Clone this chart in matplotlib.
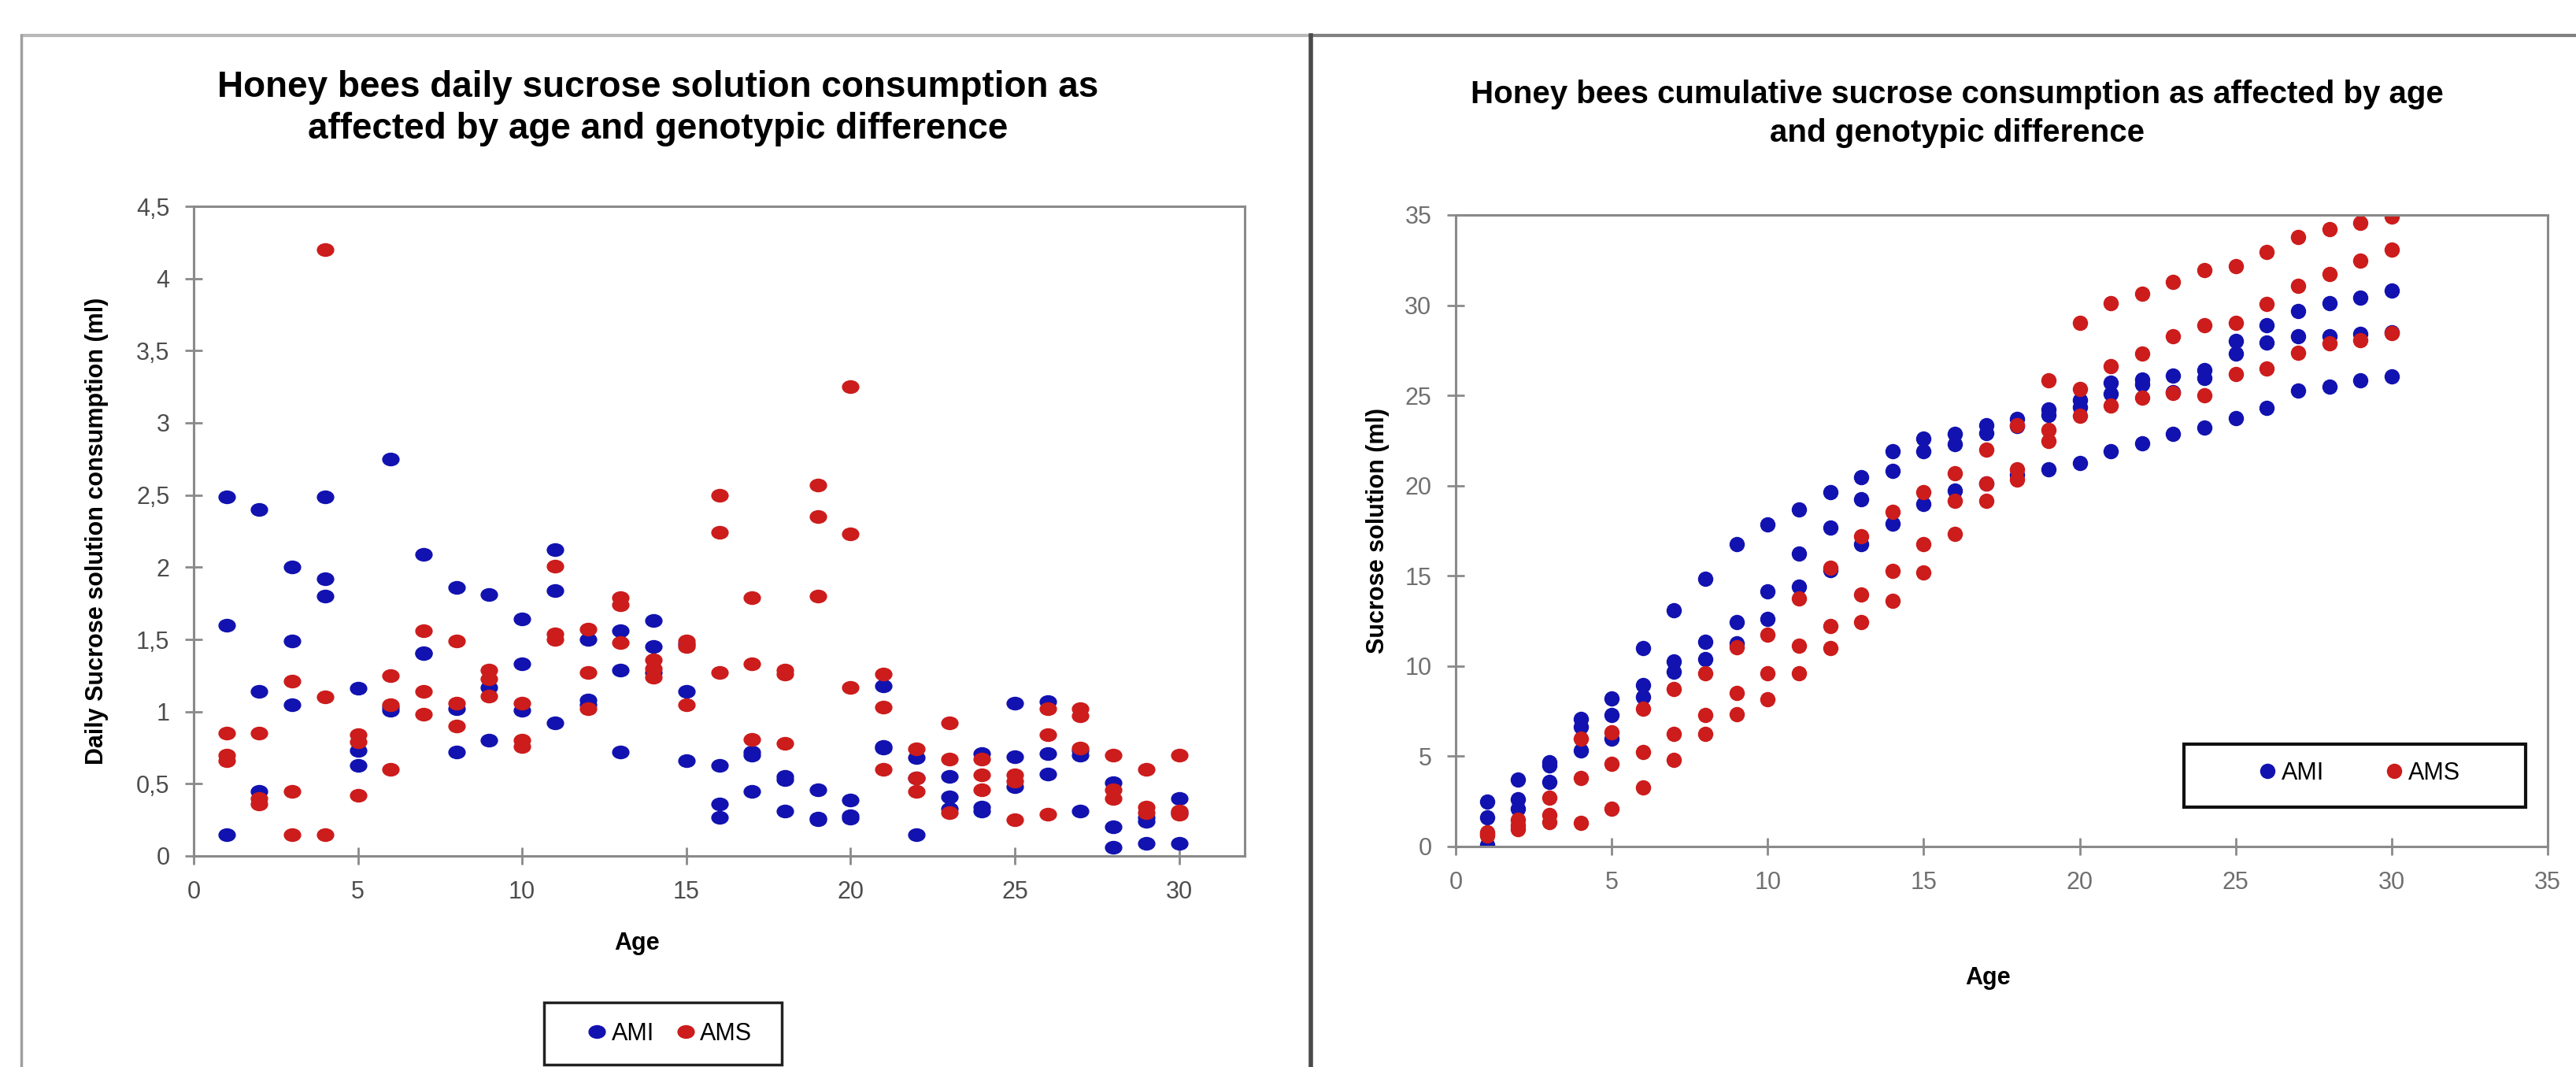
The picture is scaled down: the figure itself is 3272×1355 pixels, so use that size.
import numpy as np
import matplotlib
matplotlib.use("Agg")
import matplotlib.pyplot as plt
from matplotlib.path import Path
from matplotlib.transforms import Affine2D
from matplotlib.lines import Line2D
from matplotlib.patches import Rectangle
from matplotlib.ticker import MultipleLocator, FuncFormatter

plt.rcParams['font.family'] = ['Liberation Sans Narrow', 'Liberation Sans', 'DejaVu Sans']

ages = list(range(1, 31))

# daily consumption (ml), three replicates per age
ami_daily = [
    [2.49, 1.60, 0.15], [2.40, 1.14, 0.45], [2.00, 1.49, 1.05], [2.49, 1.92, 1.80],
    [1.16, 0.73, 0.63], [2.75, 1.03, 1.01], [2.09, 1.41, 1.40], [1.86, 1.02, 0.72],
    [1.81, 1.17, 0.80], [1.64, 1.33, 1.01], [2.12, 1.84, 0.92], [1.50, 1.08, 1.05],
    [1.56, 1.29, 0.72], [1.63, 1.45, 1.27], [1.47, 1.14, 0.66], [0.63, 0.36, 0.27],
    [0.72, 0.70, 0.45], [0.55, 0.53, 0.31], [0.46, 0.26, 0.25], [0.39, 0.28, 0.26],
    [1.18, 0.76, 0.75], [0.68, 0.54, 0.15], [0.55, 0.41, 0.33], [0.71, 0.34, 0.31],
    [1.06, 0.69, 0.48], [1.07, 0.71, 0.57], [0.73, 0.70, 0.31], [0.51, 0.20, 0.06],
    [0.27, 0.24, 0.09], [0.40, 0.30, 0.09],
]
ams_daily = [
    [0.85, 0.70, 0.66], [0.85, 0.40, 0.36], [1.21, 0.45, 0.15], [4.20, 1.10, 0.15],
    [0.84, 0.79, 0.42], [1.25, 1.05, 0.60], [1.56, 1.14, 0.98], [1.49, 1.06, 0.90],
    [1.29, 1.23, 1.11], [1.06, 0.80, 0.76], [2.01, 1.54, 1.50], [1.57, 1.27, 1.02],
    [1.79, 1.74, 1.48], [1.36, 1.30, 1.24], [1.49, 1.45, 1.05], [2.50, 2.24, 1.27],
    [1.79, 1.33, 0.81], [1.29, 1.26, 0.78], [2.57, 2.35, 1.80], [3.25, 2.23, 1.17],
    [1.26, 1.03, 0.60], [0.74, 0.54, 0.45], [0.92, 0.67, 0.30], [0.67, 0.56, 0.46],
    [0.56, 0.52, 0.25], [1.02, 0.84, 0.29], [1.02, 0.97, 0.75], [0.70, 0.46, 0.40],
    [0.60, 0.34, 0.30], [0.70, 0.31, 0.29],
]

# cumulative consumption (ml)
ami_cum = [
    [2.47, 1.60, 0.10], [3.71, 2.62, 2.11], [4.66, 4.50, 3.57], [7.06, 6.63, 5.31],
    [8.22, 7.28, 5.97], [10.99, 8.95, 8.30], [13.10, 10.26, 9.68], [14.85, 11.35, 10.40],
    [16.75, 12.45, 11.28], [17.83, 14.12, 12.62], [18.70, 16.23, 14.41], [19.65, 17.69, 15.30],
    [20.45, 19.26, 16.74], [21.90, 20.81, 17.90], [22.60, 21.90, 19.00], [22.87, 22.29, 19.72],
    [23.35, 22.90, 20.10], [23.70, 23.30, 20.60], [24.24, 23.90, 20.89], [24.75, 24.35, 21.25],
    [25.69, 25.10, 21.90], [25.87, 25.60, 22.33], [26.10, 25.20, 22.86], [26.40, 25.95, 23.20],
    [28.00, 27.30, 23.73], [28.90, 27.95, 24.30], [29.69, 28.30, 25.25], [30.13, 28.30, 25.47],
    [30.42, 28.40, 25.84], [30.79, 28.50, 26.06],
]
ams_cum = [
    [0.80, 0.70, 0.60], [1.50, 1.20, 0.95], [2.69, 1.75, 1.35], [5.97, 3.79, 1.31],
    [6.33, 4.59, 2.11], [7.64, 5.24, 3.28], [8.73, 6.26, 4.80], [9.60, 7.28, 6.26],
    [11.06, 8.52, 7.35], [11.75, 9.60, 8.15], [13.76, 11.14, 9.60], [15.43, 12.23, 10.99],
    [17.18, 13.97, 12.45], [18.56, 15.28, 13.61], [19.65, 16.74, 15.20], [20.68, 19.14, 17.32],
    [22.00, 20.10, 19.14], [23.36, 20.90, 20.35], [25.84, 23.07, 22.49], [29.04, 25.35, 23.85],
    [30.13, 26.64, 24.45], [30.63, 27.30, 24.87], [31.28, 28.28, 25.12], [31.96, 28.90, 25.00],
    [32.18, 29.04, 26.20], [32.97, 30.06, 26.50], [33.77, 31.08, 27.37], [34.20, 31.73, 27.90],
    [34.57, 32.46, 28.04], [34.93, 33.10, 28.46],
]

blue = '#1212B0'
red = '#CC1C1C'
W, H = 3272, 1355

fig = plt.figure(figsize=(W / 100, H / 100), dpi=100)


def px_axes(x0, x1, y0, y1):
    return fig.add_axes([x0 / W, 1 - y1 / H, (x1 - x0) / W, (y1 - y0) / H])


def px_line(x0, y0, x1, y1, color, lw):
    fig.add_artist(Line2D([x0 / W, x1 / W], [1 - y0 / H, 1 - y1 / H],
                          transform=fig.transFigure, color=color, lw=lw))


def style_axes(ax, tick_color):
    for s in ax.spines.values():
        s.set_color('#8a8a8a')
        s.set_linewidth(2.2)
    ax.tick_params(direction='inout', length=16, width=2, color='#8a8a8a',
                   labelsize=22, labelcolor=tick_color, pad=14)


oval = Path.unit_circle().transformed(Affine2D().scale(1.3, 1.0))

# outer frame of the screenshot
px_line(28, 45, 1665, 45, '#b8b8b8', 3)
px_line(1665, 45, W, 45, '#808080', 3)
px_line(27, 45, 27, H, '#a0a0a0', 2.5)
px_line(1665, 45, 1665, H, '#4a4a4a', 4)

# left chart: daily consumption
ax1 = px_axes(246, 1581, 262, 1087)
x3 = np.repeat(ages, 3)
ax1.plot(x3, np.ravel(ami_daily), ls='none', marker=oval, ms=15, color=blue, label='AMI')
ax1.plot(x3, np.ravel(ams_daily), ls='none', marker=oval, ms=15, color=red, label='AMS')
ax1.set_xlim(0, 32)
ax1.set_ylim(0, 4.5)
ax1.xaxis.set_major_locator(MultipleLocator(5))
ax1.set_xticks(range(0, 31, 5))
ax1.yaxis.set_major_locator(MultipleLocator(0.5))
ax1.yaxis.set_major_formatter(FuncFormatter(lambda v, p: f'{v:g}'.replace('.', ',')))
style_axes(ax1, '#4d4d4d')
ax1.set_title('Honey bees daily sucrose solution consumption as\naffected by age and genotypic difference',
              x=0.442, y=1.1406, va='center', fontsize=33, fontweight='bold', linespacing=1.25)
ax1.set_xlabel('Age', fontsize=22, fontweight='bold', va='center')
ax1.xaxis.set_label_coords(0.4217, -0.1345)
ax1.set_ylabel('Daily Sucrose solution consumption (ml)', fontsize=22, fontweight='bold', va='center')
ax1.yaxis.set_label_coords(-0.092, 0.5)

leg1 = fig.legend(handles=ax1.get_lines(), loc='center', bbox_to_anchor=(852 / W, 1 - 1313 / H),
                  ncol=2, frameon=False, fontsize=22, handlelength=0.6, handletextpad=0.3,
                  columnspacing=1.0, borderpad=0)
fig.add_artist(Rectangle((691 / W, 1 - 1352 / H), 302 / W, 79 / H, transform=fig.transFigure,
                         fill=False, edgecolor='#222222', lw=2.5))

# right chart: cumulative consumption
ax2 = px_axes(1849, 3236, 273, 1075)
ax2.plot(x3, np.ravel(ami_cum), ls='none', marker='o', ms=13, color=blue, label='AMI')
ax2.plot(x3, np.ravel(ams_cum), ls='none', marker='o', ms=13, color=red, label='AMS')
ax2.set_xlim(0, 35)
ax2.set_ylim(0, 35)
ax2.xaxis.set_major_locator(MultipleLocator(5))
ax2.yaxis.set_major_locator(MultipleLocator(5))
style_axes(ax2, '#707070')
ax2.set_title('Honey bees cumulative sucrose consumption as affected by age\nand genotypic difference',
              x=0.4593, y=1.150, va='center', fontsize=29, fontweight='bold', linespacing=1.35)
ax2.set_xlabel('Age', fontsize=22, fontweight='bold', va='center')
ax2.xaxis.set_label_coords(0.4874, -0.208)
ax2.set_ylabel('Sucrose solution (ml)', fontsize=22, fontweight='bold', va='center')
ax2.yaxis.set_label_coords(-0.0714, 0.5)

leg2 = fig.legend(handles=ax2.get_lines(), loc='center', bbox_to_anchor=(2998 / W, 1 - 982 / H),
                  ncol=2, frameon=False, fontsize=22, handlelength=0.6, handletextpad=0.3,
                  columnspacing=2.6, borderpad=0)
fig.add_artist(Rectangle((2774 / W, 1 - 1025 / H), 434 / W, 80 / H, transform=fig.transFigure,
                         fill=False, edgecolor='#111111', lw=3))

fig.savefig('out.png', dpi=100, facecolor='white')
